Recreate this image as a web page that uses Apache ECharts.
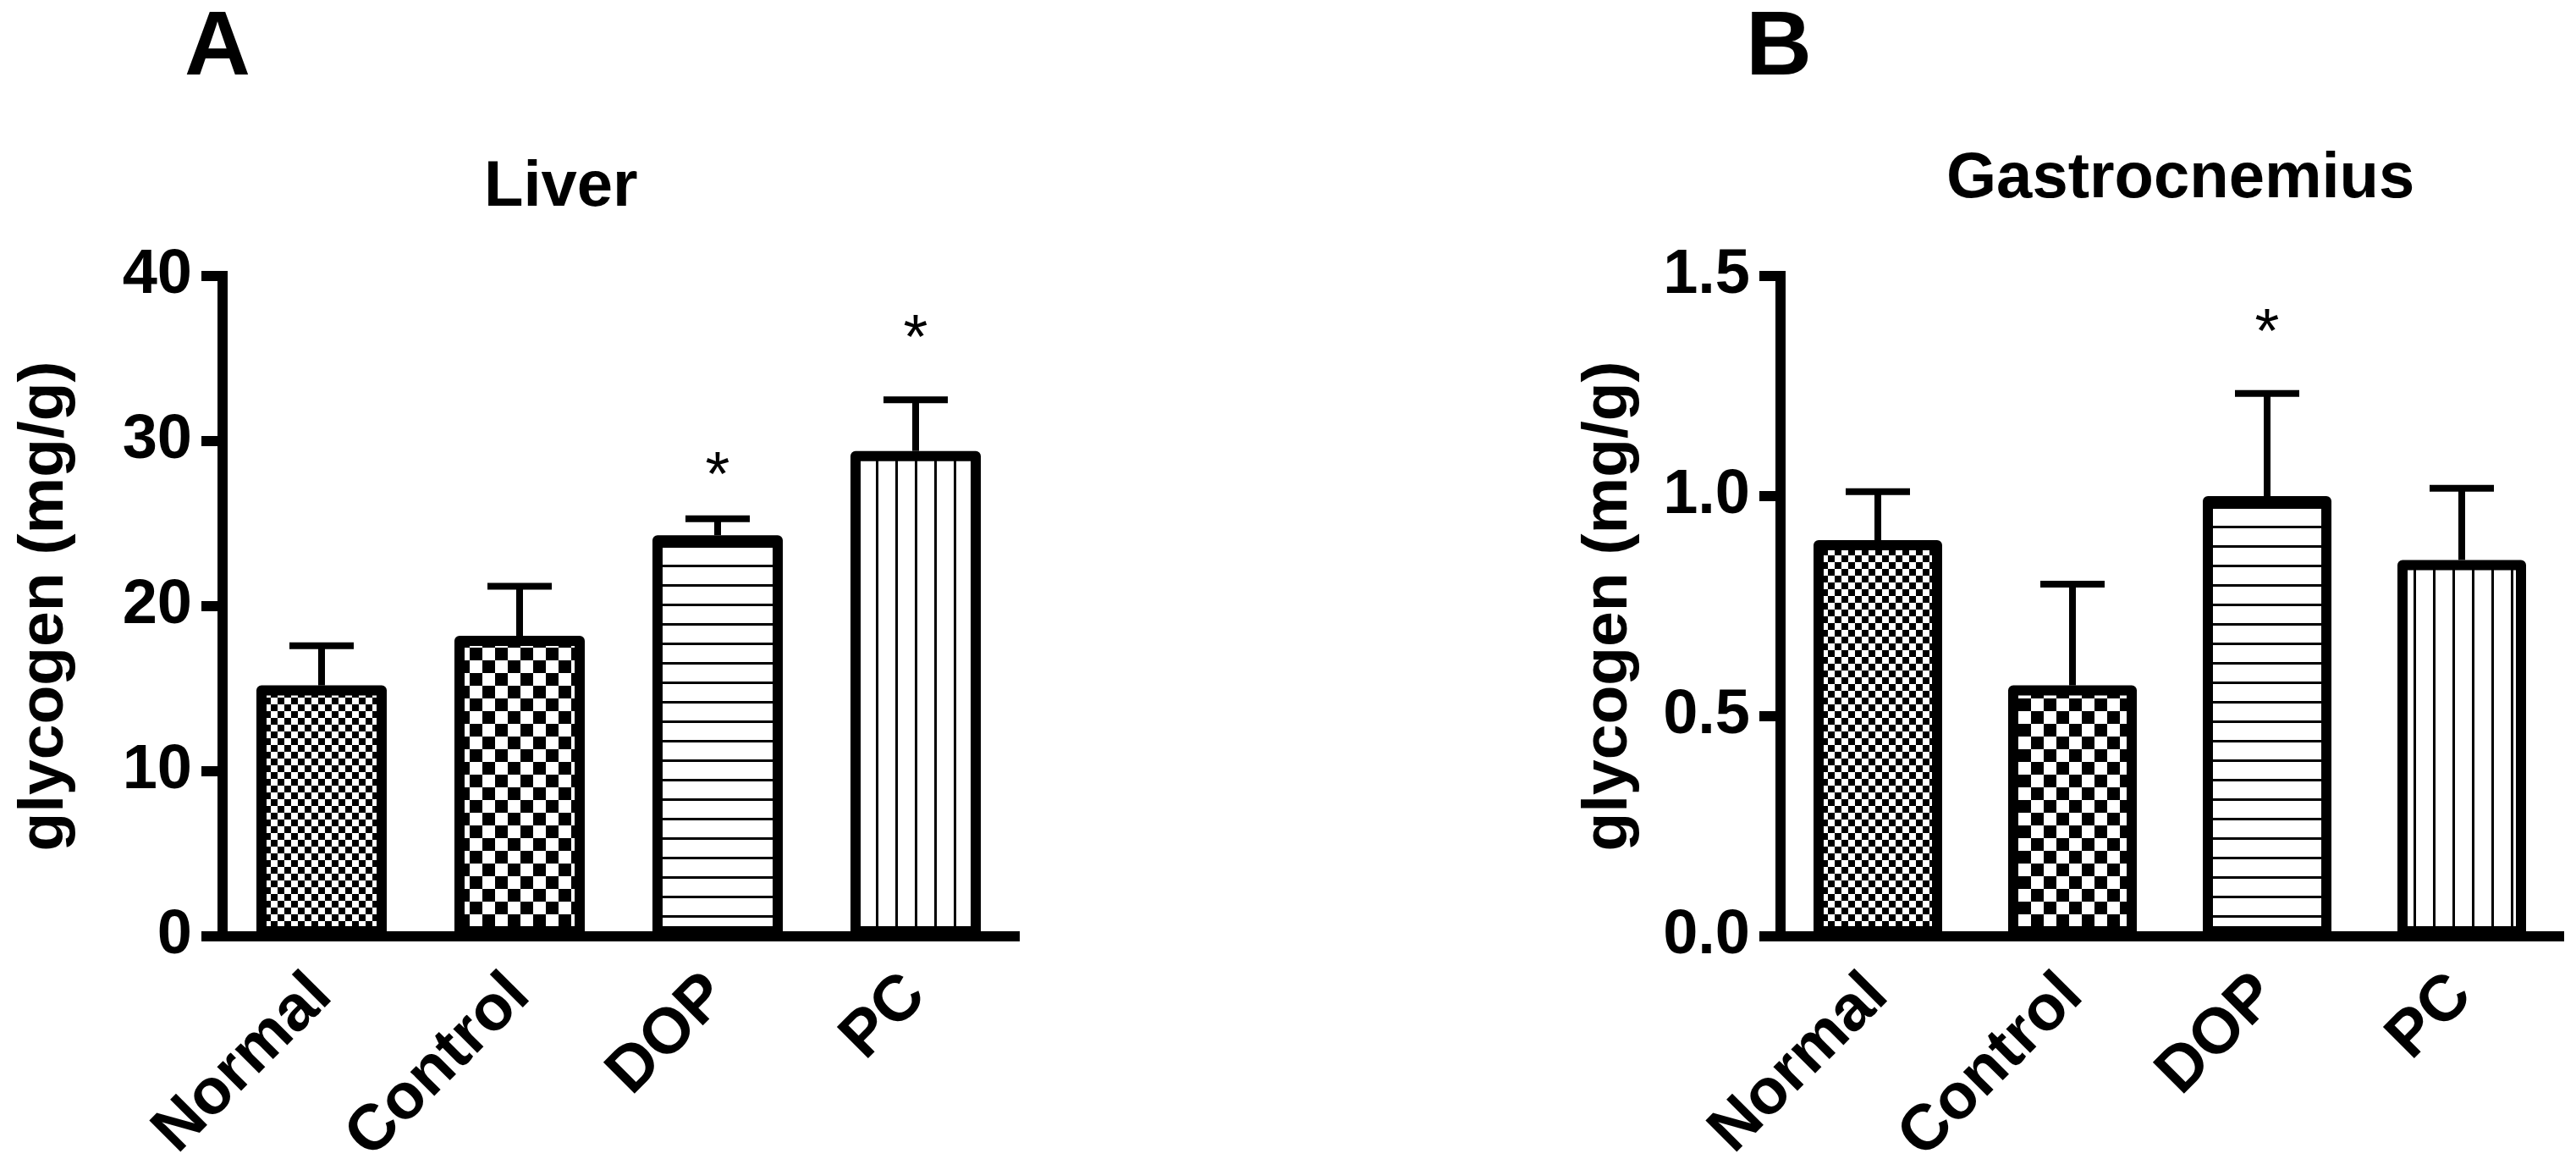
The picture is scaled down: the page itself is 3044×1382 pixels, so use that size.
<!DOCTYPE html>
<html><head><meta charset="utf-8">
<script src="https://cdn.jsdelivr.net/npm/echarts@6/dist/echarts.min.js"></script>
<style>html,body{margin:0;padding:0;background:#fff}#c{width:3044px;height:1382px}</style>
</head><body><div id="c"></div>
<script>
// ---- data ----
const categories = ['Normal', 'Control', 'DOP', 'PC'];
const liverMean = [15.2, 18.2, 24.3, 29.4];
const liverSem = [2.4, 3.0, 1.0, 3.1];
const liverStar = [null, null, 28.7, 37.0];
const gastroMean = [0.90, 0.57, 1.00, 0.855];
const gastroSem = [0.11, 0.23, 0.233, 0.163];
const gastroStar = [null, null, 1.40, null];
const liverTicks = [0, 10, 20, 30, 40];
const gastroTicks = ['0.0', '0.5', '1.0', '1.5'];
const panelLetters = ['A', 'B'];
const panelTitles = ['Liver', 'Gastrocnemius'];
const yName = 'glycogen (mg/g)';

// ---- styles ----
const FONT = "'Liberation Sans', Arial, Helvetica, sans-serif";

function makeCanvas(w, h, draw) {
  const c = document.createElement('canvas');
  c.width = w; c.height = h;
  const ctx = c.getContext('2d');
  ctx.fillStyle = '#fff'; ctx.fillRect(0, 0, w, h);
  ctx.fillStyle = '#000';
  draw(ctx);
  return { image: c, repeat: 'repeat' };
}
const patterns = [
  makeCanvas(16, 16, ctx => { ctx.fillRect(0, 0, 8, 8); ctx.fillRect(8, 8, 8, 8); }),
  makeCanvas(30, 30, ctx => { ctx.fillRect(0, 0, 15, 15); ctx.fillRect(15, 15, 15, 15); }),
  makeCanvas(8, 23, ctx => { ctx.fillRect(0, 0, 8, 3); }),
  makeCanvas(23, 8, ctx => { ctx.fillRect(0, 0, 3, 8); })
];

function xAxis(gi) {
  return {
    type: 'category', gridIndex: gi, data: categories,
    axisLine: { lineStyle: { color: '#000', width: 12, cap: 'square' } },
    axisTick: { alignWithLabel: true, length: 22, lineStyle: { color: '#000', width: 12 } },
    axisLabel: { interval: 0, rotate: 45, fontSize: 76, fontWeight: 'bold', fontFamily: FONT,
      color: '#000', margin: 58, align: 'right', verticalAlign: 'middle' },
    splitLine: { show: false }
  };
}
function yAxis(gi, ticks, gap, fmt) {
  const nums = ticks.map(Number);
  return {
    type: 'value', gridIndex: gi, min: nums[0], max: nums[nums.length - 1],
    interval: nums[1] - nums[0],
    name: yName, nameLocation: 'middle', nameGap: gap, nameRotate: 90,
    nameTextStyle: { fontSize: 75, fontWeight: 'bold', fontFamily: FONT, color: '#000' },
    axisLine: { show: true, lineStyle: { color: '#000', width: 12, cap: 'square' } },
    axisTick: { show: true, length: 25, lineStyle: { color: '#000', width: 12 } },
    axisLabel: { fontSize: 74, fontWeight: 'bold', fontFamily: FONT, color: '#000', margin: 36,
      formatter: fmt },
    splitLine: { show: false }
  };
}

function barSeries(gi, means, bw) {
  return {
    type: 'bar', xAxisIndex: gi, yAxisIndex: gi, barWidth: bw,
    itemStyle: { borderColor: '#000', borderWidth: 12, borderJoin: 'round' },
    data: means.map((v, i) => ({ value: v, itemStyle: { color: patterns[i] } })),
    z: 2
  };
}
function errSeries(gi, means, sems) {
  return {
    type: 'custom', xAxisIndex: gi, yAxisIndex: gi, z: 3,
    encode: { x: 0, y: [1, 2] },
    data: means.map((m, i) => [i, m, m + sems[i]]),
    renderItem(params, api) {
      const p0 = api.coord([api.value(0), api.value(1)]);
      const p1 = api.coord([api.value(0), api.value(2)]);
      return { type: 'group', children: [
        { type: 'line', shape: { x1: p0[0], y1: p0[1], x2: p1[0], y2: p1[1] }, style: { stroke: '#000', lineWidth: 8 } },
        { type: 'line', shape: { x1: p1[0] - 38, y1: p1[1], x2: p1[0] + 38, y2: p1[1] }, style: { stroke: '#000', lineWidth: 8 } }
      ]};
    }
  };
}
function starSeries(gi, stars) {
  return {
    type: 'custom', xAxisIndex: gi, yAxisIndex: gi, z: 4,
    encode: { x: 0, y: 1 },
    data: stars.map((s, i) => [i, s]).filter(d => d[1] != null),
    renderItem(params, api) {
      const p = api.coord([api.value(0), api.value(1)]);
      return { type: 'text', x: p[0], y: p[1] + 18,
        style: { text: '*', font: 'normal 74px ' + FONT, fill: '#000', align: 'center', verticalAlign: 'middle' } };
    }
  };
}

const titleStyle = (fs) => ({ fontSize: fs, fontWeight: 'bold', fontFamily: FONT, color: '#000', lineHeight: fs });

const option = {
  animation: false,
  backgroundColor: '#fff',
  title: [
    { text: panelLetters[0], left: 218, top: 4, padding: 0, textStyle: titleStyle(108) },
    { text: panelLetters[1], left: 2063, top: 4, padding: 0, textStyle: titleStyle(108) },
    { text: panelTitles[0], left: 572, top: 184, padding: 0, textStyle: titleStyle(76) },
    { text: panelTitles[1], left: 2300, top: 174, padding: 0, textStyle: titleStyle(76) }
  ],
  grid: [
    { left: 263, top: 326, width: 936, height: 780, containLabel: false, outerBoundsMode: 'none' },
    { left: 2104, top: 326, width: 920, height: 780, containLabel: false, outerBoundsMode: 'none' }
  ],
  xAxis: [xAxis(0), xAxis(1)],
  yAxis: [
    yAxis(0, liverTicks, 172, v => String(v)),
    yAxis(1, gastroTicks, 165, v => v.toFixed(1))
  ],
  series: [
    barSeries(0, liverMean, 154), errSeries(0, liverMean, liverSem), starSeries(0, liverStar),
    barSeries(1, gastroMean, 152), errSeries(1, gastroMean, gastroSem), starSeries(1, gastroStar)
  ]
};
const chart = echarts.init(document.getElementById('c'), null, { renderer: 'canvas' });
chart.setOption(option);
</script></body></html>
